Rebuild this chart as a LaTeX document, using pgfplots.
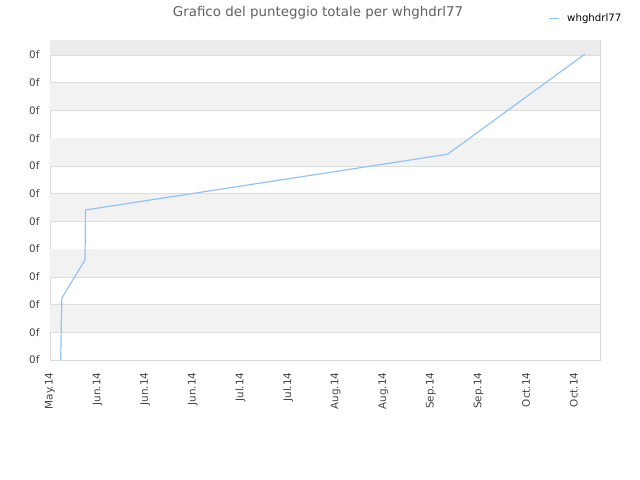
\documentclass[border=0pt]{standalone}
\usepackage{fontspec}
\setmainfont{DejaVu Sans}
\usepackage{pgfplots}
\pgfplotsset{compat=1.18}

\definecolor{serie}{RGB}{145,196,245}
\definecolor{banda}{RGB}{242,242,242}
\definecolor{bandatop}{RGB}{236,236,236}
\definecolor{griglia}{RGB}{221,221,221}
\definecolor{bordo}{RGB}{216,216,216}
\definecolor{testo}{RGB}{68,68,68}

\begin{document}
\begin{tikzpicture}[x=1bp,y=1bp]
\path[use as bounding box] (0,0) rectangle (640,480);

% titolo e legenda
\node[text=testo!85!white, font=\fontsize{13.4bp}{15bp}\selectfont] at (318,467) {Grafico del punteggio totale per whghdrl77};
\draw[serie, line width=1.4bp] (549,461.5) -- (559,461.5);
\node[anchor=west, font=\fontsize{10.2bp}{12bp}\selectfont, inner sep=0pt] at (567,461.5) {whghdrl77};

\begin{axis}[
    at={(50bp,120bp)}, anchor=south west,
    width=550bp, height=320bp, scale only axis,
    xmin=0, xmax=11.55,
    ymin=0, ymax=11.54,
    xtick={0,1,...,11},
    xticklabels={May.14,Jun.14,Jun.14,Jun.14,Jul.14,Jul.14,Aug.14,Aug.14,Sep.14,Sep.14,Oct.14,Oct.14},
    ytick={0,1,...,11},
    yticklabel={0f},
    major tick length=0pt,
    axis line style={bordo},
    ymajorgrids, major grid style={griglia},
    tick label style={text=testo, font=\fontsize{10.4bp}{12bp}\selectfont},
    xticklabel style={rotate=90, anchor=east, xshift=-9bp},
    yticklabel style={anchor=east, xshift=-7bp},
    /pgf/number format/assume math mode=true,
    clip=false,
    axis on top=false,
]
% fasce alternate di sfondo
\fill[bandatop] (axis cs:0,11) rectangle (axis cs:11.55,11.54);
\fill[banda] (axis cs:0,9) rectangle (axis cs:11.55,10);
\fill[banda] (axis cs:0,7) rectangle (axis cs:11.55,8);
\fill[banda] (axis cs:0,5) rectangle (axis cs:11.55,6);
\fill[banda] (axis cs:0,3) rectangle (axis cs:11.55,4);
\fill[banda] (axis cs:0,1) rectangle (axis cs:11.55,2);

\addplot[serie, line width=1.2bp, mark=none] coordinates {
    (0.225,0) (0.237,1.33) (0.25,2.24) (0.735,3.61) (0.745,5.41) (8.35,7.42) (11.23,11.03)
};
\end{axis}
\end{tikzpicture}
\end{document}
